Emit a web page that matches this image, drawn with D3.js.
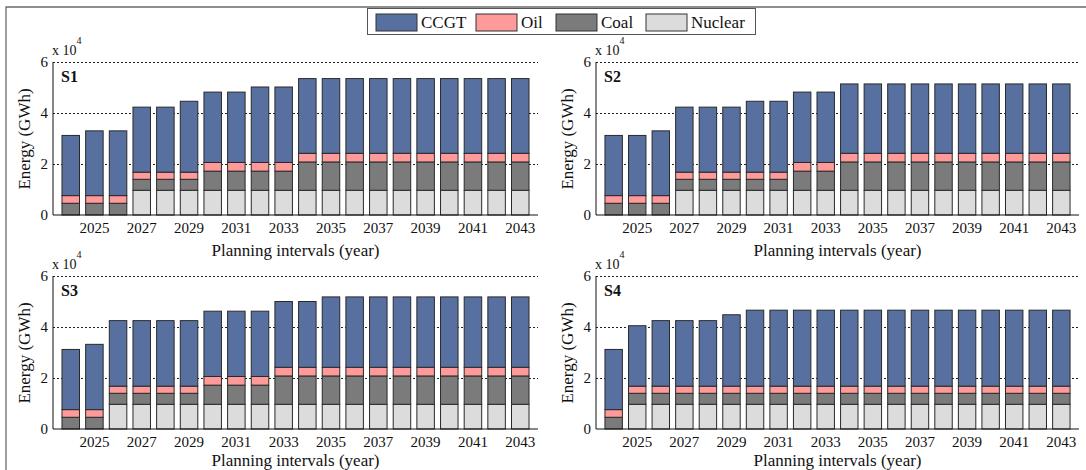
<!DOCTYPE html>
<html>
<head>
<meta charset="utf-8">
<script src="https://cdn.jsdelivr.net/npm/d3@7"></script>
<style>
  body { margin: 0; background: #fff; }
  svg { display: block; }
  svg text { font-family: 'Liberation Serif', 'DejaVu Serif', serif; }
</style>
</head>
<body>
<svg id="chart" width="1086" height="470"></svg>
<script>
// planning years, 20 intervals
const years = d3.range(2024, 2044);
const tickYears = [2025, 2027, 2029, 2031, 2033, 2035, 2037, 2039, 2041, 2043];
const fuels = ['Nuclear', 'Coal', 'Oil', 'CCGT'];
const legendOrder = ['CCGT', 'Oil', 'Coal', 'Nuclear'];
const yTicks = [0, 20000, 40000, 60000];

// energy per fuel in GWh
const nuclearS1 = [0, 0, 0, 9700, 9700, 9700, 9700, 9700, 9700, 9700, 9700, 9700, 9700, 9700, 9700, 9700, 9700, 9700, 9700, 9700];
const coalS1    = [4600, 4600, 4600, 4300, 4300, 4300, 7500, 7500, 7500, 7500, 11100, 11100, 11100, 11100, 11100, 11100, 11100, 11100, 11100, 11100];
const oilS1     = [3000, 3000, 3000, 2800, 2800, 2800, 3400, 3400, 3400, 3400, 3400, 3400, 3400, 3400, 3400, 3400, 3400, 3400, 3400, 3400];
const ccgtS1    = [23600, 25400, 25400, 25500, 25500, 27800, 27600, 27600, 29600, 29600, 29300, 29300, 29300, 29300, 29300, 29300, 29300, 29300, 29300, 29300];

const nuclearS2 = [0, 0, 0, 9700, 9700, 9700, 9700, 9700, 9700, 9700, 9700, 9700, 9700, 9700, 9700, 9700, 9700, 9700, 9700, 9700];
const coalS2    = [4600, 4600, 4600, 4300, 4300, 4300, 4300, 4300, 7500, 7500, 11100, 11100, 11100, 11100, 11100, 11100, 11100, 11100, 11100, 11100];
const oilS2     = [3000, 3000, 3000, 2800, 2800, 2800, 2800, 2800, 3400, 3400, 3400, 3400, 3400, 3400, 3400, 3400, 3400, 3400, 3400, 3400];
const ccgtS2    = [23600, 23600, 25400, 25500, 25500, 25500, 27800, 27800, 27600, 27600, 27200, 27200, 27200, 27200, 27200, 27200, 27200, 27200, 27200, 27200];

const nuclearS3 = [0, 0, 9700, 9700, 9700, 9700, 9700, 9700, 9700, 9700, 9700, 9700, 9700, 9700, 9700, 9700, 9700, 9700, 9700, 9700];
const coalS3    = [4600, 4600, 4300, 4300, 4300, 4300, 7500, 7500, 7500, 11100, 11100, 11100, 11100, 11100, 11100, 11100, 11100, 11100, 11100, 11100];
const oilS3     = [3000, 3000, 2800, 2800, 2800, 2800, 3400, 3400, 3400, 3400, 3400, 3400, 3400, 3400, 3400, 3400, 3400, 3400, 3400, 3400];
const ccgtS3    = [23600, 25600, 25700, 25700, 25700, 25700, 25600, 25600, 25600, 25800, 25800, 27600, 27600, 27600, 27600, 27600, 27600, 27600, 27600, 27600];

const nuclearS4 = [0, 9700, 9700, 9700, 9700, 9700, 9700, 9700, 9700, 9700, 9700, 9700, 9700, 9700, 9700, 9700, 9700, 9700, 9700, 9700];
const coalS4    = [4600, 4300, 4300, 4300, 4300, 4300, 4300, 4300, 4300, 4300, 4300, 4300, 4300, 4300, 4300, 4300, 4300, 4300, 4300, 4300];
const oilS4     = [3000, 2800, 2800, 2800, 2800, 2800, 2800, 2800, 2800, 2800, 2800, 2800, 2800, 2800, 2800, 2800, 2800, 2800, 2800, 2800];
const ccgtS4    = [23600, 23700, 25700, 25700, 25700, 28000, 29800, 29800, 29800, 29800, 29800, 29800, 29800, 29800, 29800, 29800, 29800, 29800, 29800, 29800];

const colors = { CCGT: '#5870a0', Oil: '#ff9a9a', Coal: '#7b7b7b', Nuclear: '#dcdcdc' };
const serif = "'Liberation Serif', 'DejaVu Serif', serif";

const panels = [
  { name: 'S1', nuclear: nuclearS1, coal: coalS1, oil: oilS1, ccgt: ccgtS1, x0: 53, x1: 538, y0: 215, lab: 41 },
  { name: 'S2', nuclear: nuclearS2, coal: coalS2, oil: oilS2, ccgt: ccgtS2, x0: 596, x1: 1079, y0: 215, lab: 41 },
  { name: 'S3', nuclear: nuclearS3, coal: coalS3, oil: oilS3, ccgt: ccgtS3, x0: 53, x1: 538, y0: 429, lab: 37 },
  { name: 'S4', nuclear: nuclearS4, coal: coalS4, oil: oilS4, ccgt: ccgtS4, x0: 596, x1: 1079, y0: 429, lab: 37 }
];

const svg = d3.select('#chart').attr('font-family', serif);

// outer frame (top + left edge visible)
svg.append('path')
  .attr('d', 'M6,470 L6,7 L1086,7')
  .attr('fill', 'none')
  .attr('stroke', '#6a6a6a')
  .attr('stroke-width', 1.3);

function drawPanel(p) {
  const g = svg.append('g');
  const x = d3.scaleBand().domain(years).range([p.x0, p.x1]).paddingInner(0.26).paddingOuter(0.38);
  const y = d3.scaleLinear().domain([0, 60000]).range([p.y0, p.y0 - 153]);

  const rows = years.map((yr, i) => ({
    year: yr, Nuclear: p.nuclear[i], Coal: p.coal[i], Oil: p.oil[i], CCGT: p.ccgt[i]
  }));
  const series = d3.stack().keys(fuels)(rows);

  // dotted grid
  g.selectAll('.grid').data(yTicks.slice(1)).enter().append('line')
    .attr('x1', p.x0).attr('x2', p.x1)
    .attr('y1', d => Math.round(y(d)) + 0.5).attr('y2', d => Math.round(y(d)) + 0.5)
    .attr('stroke', '#222').attr('stroke-width', 1)
    .attr('stroke-dasharray', '2,2');

  g.selectAll('.layer').data(series).enter().append('g')
    .attr('fill', d => colors[d.key])
    .selectAll('rect').data(d => d).enter().append('rect')
    .attr('x', d => x(d.data.year))
    .attr('width', x.bandwidth())
    .attr('y', d => y(d[1]))
    .attr('height', d => Math.max(0, y(d[0]) - y(d[1])))
    .attr('stroke', '#2a2a2a')
    .attr('stroke-width', 1);

  // axes
  const yAxis = d3.axisLeft(y).tickValues(yTicks).tickSize(0).tickPadding(5)
    .tickFormat(d => d / 10000);
  g.append('g').attr('transform', `translate(${p.x0},0)`).call(yAxis)
    .attr('font-family', serif).attr('font-size', 15)
    .call(a => a.select('.domain').attr('stroke', '#111').attr('d', `M0,${p.y0}V${p.y0 - 153}`))
    .call(a => a.selectAll('text').attr('fill', '#111'));

  const xAxis = d3.axisBottom(x).tickValues(tickYears).tickSize(0).tickPadding(7);
  g.append('g').attr('transform', `translate(0,${p.y0})`).call(xAxis)
    .attr('font-family', serif).attr('font-size', 15)
    .call(a => a.select('.domain').attr('stroke', '#111').attr('d', `M${p.x0},0H${p.x1}`))
    .call(a => a.selectAll('text').attr('fill', '#111'));

  // labels
  g.append('text')
    .attr('x', (p.x0 + p.x1) / 2).attr('y', p.y0 + p.lab)
    .attr('text-anchor', 'middle').attr('font-size', 17).attr('fill', '#111')
    .text('Planning intervals (year)');

  g.append('text')
    .attr('transform', `translate(${p.x0 - 23},${p.y0 - 76}) rotate(-90)`)
    .attr('text-anchor', 'middle').attr('font-size', 17).attr('fill', '#111')
    .text('Energy (GWh)');

  const ex = g.append('text').attr('x', p.x0 - 1).attr('y', p.y0 - 160)
    .attr('font-size', 14).attr('fill', '#111');
  ex.append('tspan').text('x 10');
  ex.append('tspan').attr('dy', -11).attr('font-size', 10).text('4');

  g.append('text')
    .attr('x', p.x0 + 8).attr('y', p.y0 - 133)
    .attr('font-size', 16).attr('font-weight', 'bold').attr('fill', '#111')
    .text(p.name);
}

panels.forEach(drawPanel);

// legend
const lg = svg.append('g');
lg.append('rect').attr('x', 367.5).attr('y', 8.5).attr('width', 388).attr('height', 26)
  .attr('fill', '#fff').attr('stroke', '#555').attr('stroke-width', 1);
const legendX = [376, 476, 556, 646];
const item = lg.selectAll('.item').data(legendOrder).enter().append('g')
  .attr('transform', (d, i) => `translate(${legendX[i]},14)`);
item.append('rect').attr('width', 41).attr('height', 17)
  .attr('fill', d => colors[d]).attr('stroke', '#333').attr('stroke-width', 1);
item.append('text').attr('x', 45).attr('y', 14).attr('font-size', 17).attr('fill', '#111')
  .text(d => d);
</script>
</body>
</html>
